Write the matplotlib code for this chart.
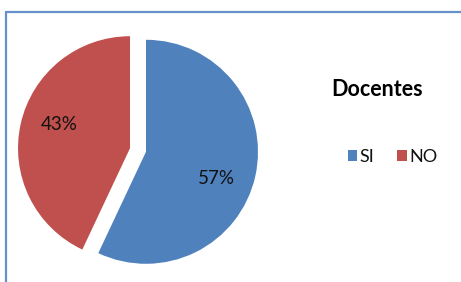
import numpy as np
import matplotlib
matplotlib.use("Agg")
import matplotlib.pyplot as plt
from matplotlib.patches import Rectangle

# Data
categories = ["SI", "NO"]
values = [57, 43]
colors = ["#4F81BD", "#C0504D"]
title = "Docentes"

plt.rcParams['font.family'] = ['Lato', 'DejaVu Sans']

W, H = 461, 282
fig = plt.figure(figsize=(W / 100, H / 100), dpi=100)
fig.patch.set_facecolor("white")

# chart border (extends beyond right/bottom)
fig.patches.append(Rectangle((5.5 / W, -0.1), 1.2, (H - 11.5) / H + 0.1,
                             transform=fig.transFigure, fill=False,
                             edgecolor="#6690C9", linewidth=1.6, zorder=0))

# pie axes: center (138,150) px, radius 112 px
R = 112
lim = 1.2
side = 2 * lim * R
cx, cy = 138, H - 150
ax = fig.add_axes([(cx - side / 2) / W, (cy - side / 2) / H, side / W, side / H])
wedges, texts, autotexts = ax.pie(values, colors=colors, startangle=90, counterclock=False,
                                  explode=[0.073, 0.073], radius=1.0,
                                  autopct=lambda p: f"{p:.0f}%", pctdistance=0.67,
                                  wedgeprops=dict(linewidth=0, edgecolor="none"),
                                  textprops=dict(fontsize=13.5, color="#111111"))
ax.set_xlim(-lim, lim)
ax.set_ylim(-lim, lim)
ax.set_aspect("equal")
ax.set_axis_off()

# shift label positions slightly clockwise around each wedge centre
rot = np.deg2rad(-7)
for w, t in zip(wedges, autotexts):
    c = np.array(w.center)
    bis = np.deg2rad((w.theta1 + w.theta2) / 2) + rot
    t.set_position(c + 0.67 * np.array([np.cos(bis), np.sin(bis)]))
    t.set_va("center_baseline")

# title
fig.text(377 / W, 1 - 89.5 / H, title, ha="center", va="center",
         fontsize=15.5, fontweight="bold", color="#000000")

# legend
fig.legend(wedges, categories, loc="center", bbox_to_anchor=(392.5 / W, 1 - 157 / H),
           ncol=2, frameon=False, fontsize=13, handlelength=0.5, handleheight=0.6,
           handletextpad=0.15, columnspacing=1.3, borderpad=0, borderaxespad=0,
           labelcolor="#111111")

fig.savefig("out.png", dpi=100, facecolor="white")
